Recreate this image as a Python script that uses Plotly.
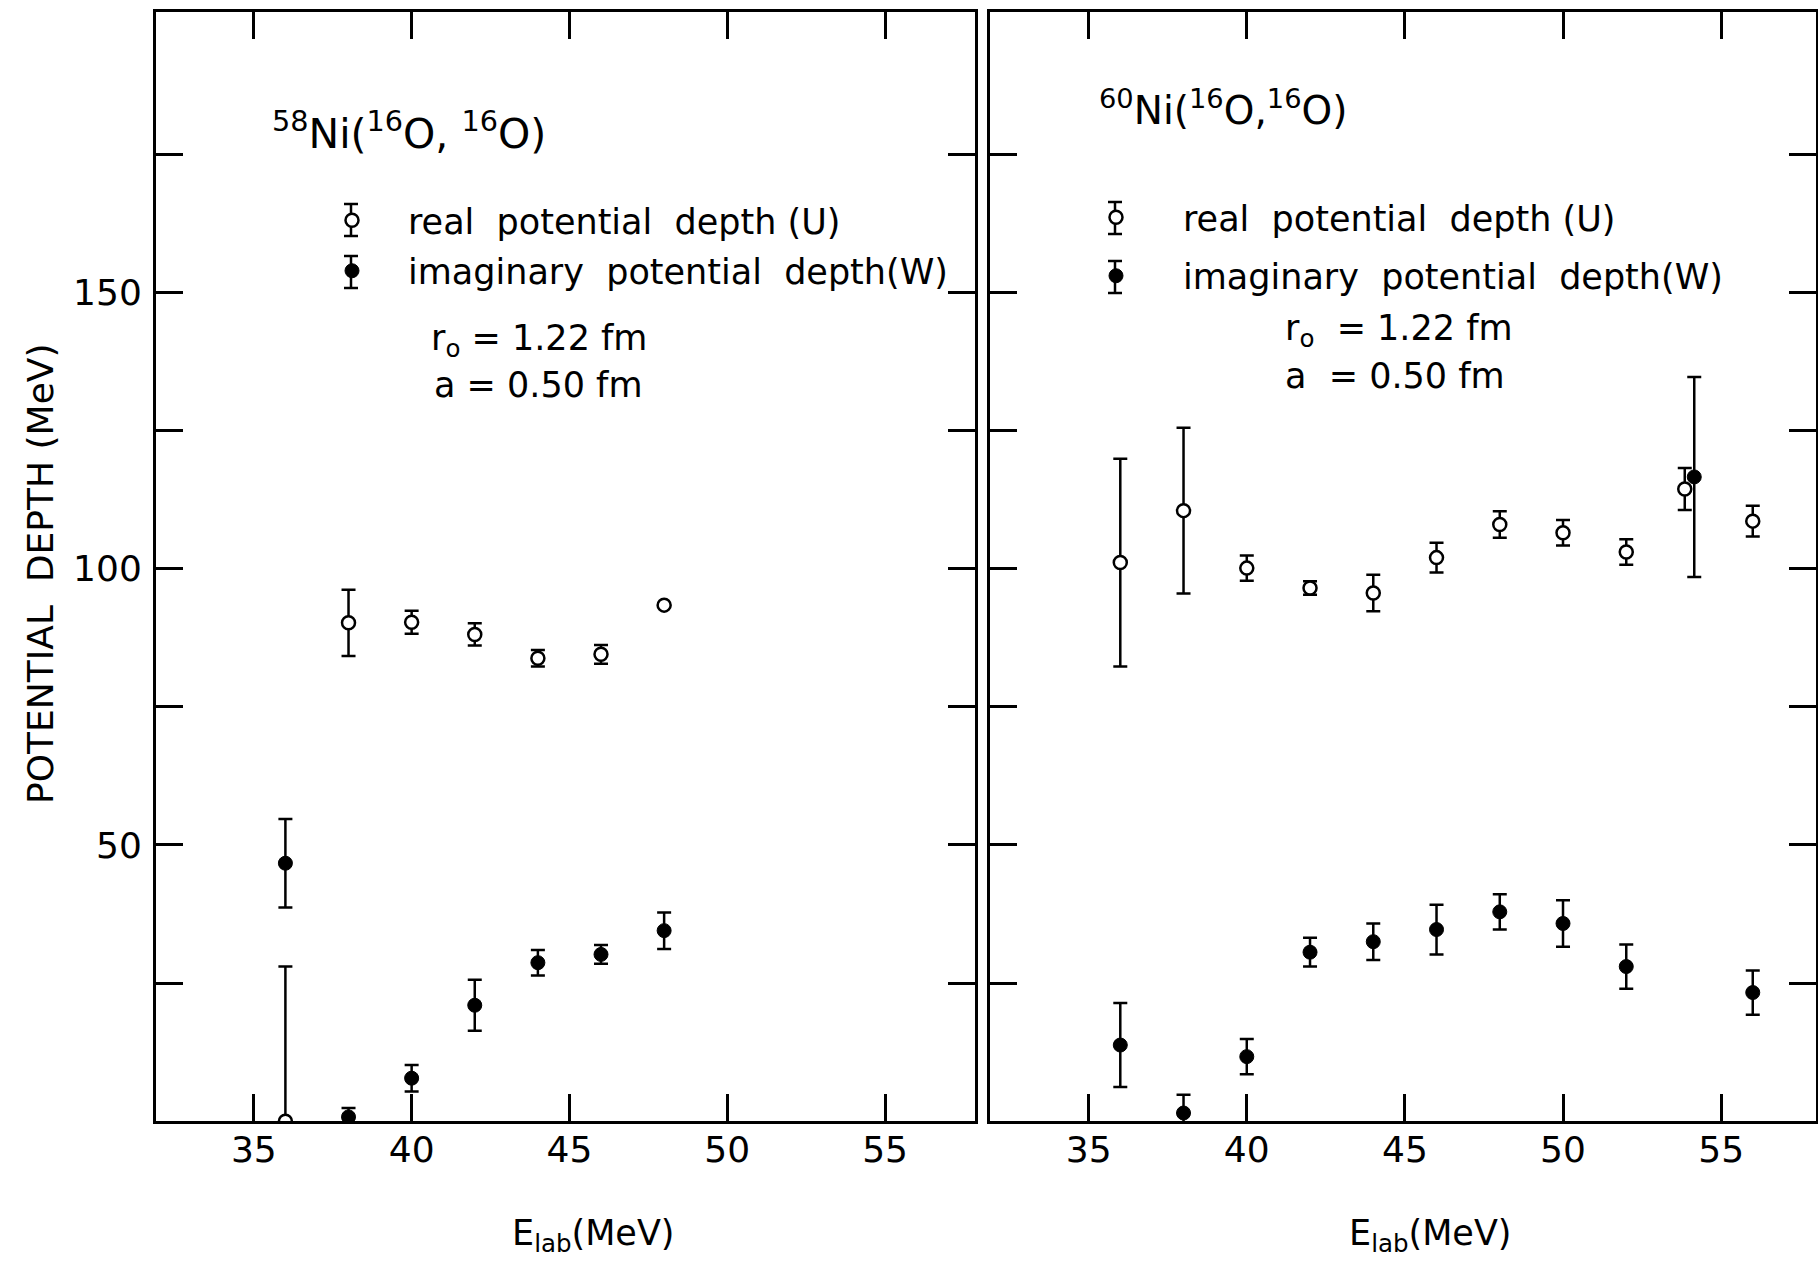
import plotly.graph_objects as go

# ---------------- data ----------------
# 58Ni(16O,16O)
E_U_58 = [36, 38, 40, 42, 44, 46, 48]
U_58 = [0.0, 90.2, 90.3, 88.1, 83.8, 84.5, 93.4]
dU_58 = [28.0, 6.0, 2.1, 2.0, 1.5, 1.7, None]

E_W_58 = [36, 38, 40, 42, 44, 46, 48]
W_58 = [46.7, 0.8, 7.8, 21.0, 28.7, 30.2, 34.5]
dW_58 = [8.0, 1.6, 2.4, 4.6, 2.3, 1.7, 3.3]

# 60Ni(16O,16O)
E_U_60 = [36, 38, 40, 42, 44, 46, 48, 50, 52, 53.85, 56]
U_60 = [101.1, 110.5, 100.1, 96.5, 95.6, 102.0, 108.0, 106.5, 103.0, 114.4, 108.6]
dU_60 = [18.8, 15.0, 2.3, 1.2, 3.3, 2.7, 2.4, 2.3, 2.3, 3.8, 2.8]

E_W_60 = [36, 38, 40, 42, 44, 46, 48, 50, 52, 54.15, 56]
W_60 = [13.8, 1.5, 11.7, 30.6, 32.5, 34.7, 37.9, 35.8, 28.0, 116.6, 23.3]
dW_60 = [7.6, 3.3, 3.2, 2.6, 3.3, 4.5, 3.2, 4.2, 4.0, 18.1, 4.0]

X_TICKS = [35, 40, 45, 50, 55]
Y_TICKS = [25, 50, 75, 100, 125, 150, 175]
Y_TICKTEXT = ["", "50", "", "100", "", "150", ""]

NAME_U = "real  potential  depth (U)"
NAME_W = "imaginary  potential  depth(W)"

FONT = "DejaVu Sans"
W_PX, H_PX = 1818, 1272


def px(x):
    return x / W_PX


def py(y):
    return 1 - y / H_PX


err_style = dict(type="data", color="black", thickness=2.5, width=7, visible=True)

fig = go.Figure()


def add_panel(EU, U, dU, EW, W, dW, xa, ya, legend):
    fig.add_trace(go.Scatter(
        x=EU, y=U, mode="markers", name=NAME_U, legend=legend,
        legendgroup=legend + "u",
        marker=dict(symbol="circle", size=13, color="white",
                    line=dict(color="black", width=2.5)),
        error_y=dict(array=dU, **err_style),
        xaxis=xa, yaxis=ya,
    ))
    fig.add_trace(go.Scatter(
        x=EW, y=W, mode="markers", name=NAME_W, legend=legend,
        legendgroup=legend + "w",
        marker=dict(symbol="circle", size=14, color="black",
                    line=dict(color="black", width=1)),
        error_y=dict(array=dW, **err_style),
        xaxis=xa, yaxis=ya,
    ))


add_panel(E_U_58, U_58, dU_58, E_W_58, W_58, dW_58, "x", "y", "legend")
add_panel(E_U_60, U_60, dU_60, E_W_60, W_60, dW_60, "x2", "y2", "legend2")

axis_common = dict(
    showline=True, linecolor="black", linewidth=3, mirror="ticks",
    ticks="inside", ticklen=27, tickwidth=3, tickcolor="black",
    showgrid=False, zeroline=False,
    tickfont=dict(family=FONT, size=36, color="black"),
)

y_dom = [py(1121.3), py(11.6)]

fig.update_layout(
    width=W_PX, height=H_PX,
    margin=dict(l=0, r=0, t=0, b=0),
    paper_bgcolor="white", plot_bgcolor="white",
    font=dict(family=FONT, color="black"),
    xaxis=dict(domain=[px(156), px(975)], range=[31.9, 57.85],
               tickvals=X_TICKS, anchor="y", ticklabelstandoff=-6, **axis_common),
    yaxis=dict(domain=y_dom, range=[0, 200.8], tickvals=Y_TICKS,
               ticktext=Y_TICKTEXT, anchor="x", ticklabelstandoff=4, **axis_common),
    xaxis2=dict(domain=[px(990), px(1816)], range=[31.88, 58.0],
                tickvals=X_TICKS, anchor="y2", ticklabelstandoff=-6, **axis_common),
    yaxis2=dict(domain=y_dom, range=[0, 200.8], tickvals=Y_TICKS,
                showticklabels=False, anchor="x2", **axis_common),
    legend=dict(x=px(296), y=py(191), xanchor="left", yanchor="top",
                itemwidth=102, traceorder="grouped", tracegroupgap=2,
                bgcolor="rgba(0,0,0,0)",
                font=dict(family=FONT, size=35, color="black")),
    legend2=dict(x=px(1049), y=py(188), xanchor="left", yanchor="top",
                 itemwidth=124, traceorder="grouped", tracegroupgap=10,
                 bgcolor="rgba(0,0,0,0)",
                 font=dict(family=FONT, size=35, color="black")),
    showlegend=True,
)

ann_font = dict(family=FONT, size=35, color="black")
annotations = [
    dict(text="<sup>58</sup>Ni(<sup>16</sup>O, <sup>16</sup>O)", x=px(270), y=py(131),
         xanchor="left", yanchor="middle", font=dict(family=FONT, size=41, color="black")),
    dict(text="<sup>60</sup>Ni(<sup>16</sup>O,<sup>16</sup>O)", x=px(1097), y=py(108),
         xanchor="left", yanchor="middle", font=dict(family=FONT, size=39, color="black")),
    dict(text="r<sub>o</sub> = 1.22 fm", x=px(429), y=py(340),
         xanchor="left", yanchor="middle", font=ann_font),
    dict(text="a = 0.50 fm", x=px(432), y=py(385),
         xanchor="left", yanchor="middle", font=ann_font),
    dict(text="r<sub>o</sub>  = 1.22 fm", x=px(1283), y=py(330),
         xanchor="left", yanchor="middle", font=ann_font),
    dict(text="a  = 0.50 fm", x=px(1283), y=py(376),
         xanchor="left", yanchor="middle", font=ann_font),
    dict(text="E<sub>lab</sub>(MeV)", x=px(593), y=py(1235),
         xanchor="center", yanchor="middle", font=ann_font),
    dict(text="E<sub>lab</sub>(MeV)", x=px(1430), y=py(1235),
         xanchor="center", yanchor="middle", font=ann_font),
    dict(text="POTENTIAL  DEPTH (MeV)", x=px(40), y=py(574), textangle=-90,
         xanchor="center", yanchor="middle", font=dict(family=FONT, size=36, color="black")),
]
for a in annotations:
    a.update(xref="paper", yref="paper", showarrow=False)
fig.update_layout(annotations=annotations)

# error-bar whiskers behind the legend keys (legend keys sit on top of them)
LEGEND_KEYS = [(351, 220), (351, 272), (1115, 218), (1115, 277)]
shapes = []
for kx, ky in LEGEND_KEYS:
    line = dict(color="black", width=2.5)
    shapes.append(dict(type="line", xref="paper", yref="paper",
                       x0=px(kx), x1=px(kx), y0=py(ky - 16), y1=py(ky + 16), line=line))
    for cy in (ky - 16, ky + 16):
        shapes.append(dict(type="line", xref="paper", yref="paper",
                           x0=px(kx - 7), x1=px(kx + 7), y0=py(cy), y1=py(cy), line=line))
fig.update_layout(shapes=shapes)

fig.write_html("out.html")
